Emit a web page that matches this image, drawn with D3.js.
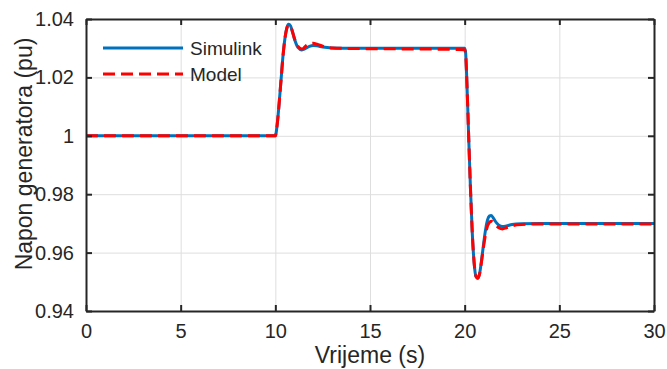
<!DOCTYPE html>
<html>
<head>
<meta charset="utf-8">
<script src="https://cdn.jsdelivr.net/npm/d3@7"></script>
<style>
    body { margin: 0; background: #fff; }
    svg { display: block; font-family: Arial, 'Liberation Sans', sans-serif; }
</style>
</head>
<body>
<svg id="chart"></svg>
<script>
// time samples (s)
const time = [0, 10, 10.1, 10.2, 10.3, 10.4, 10.5, 10.6, 10.7, 10.8, 10.9, 11, 11.2, 11.4, 11.6, 11.8, 12, 12.2, 12.5, 13, 14, 16, 18, 19.5,
    20, 20.05, 20.1, 20.2, 20.3, 20.4, 20.5, 20.6, 20.7, 20.8, 20.9, 21, 21.1, 21.2, 21.3, 21.4, 21.5, 21.6, 21.8, 22, 22.2, 22.5, 23, 24, 26, 28, 30];

const simulink = [1.0, 1.0, 1.004, 1.011, 1.019, 1.027, 1.033, 1.0368, 1.0382, 1.0377, 1.0358, 1.0334, 1.0302, 1.0294, 1.0299, 1.0306, 1.0309, 1.0308, 1.0304, 1.0301, 1.03, 1.03, 1.03, 1.03,
    1.03, 1.0285, 1.0215, 1.002, 0.983, 0.967, 0.9565, 0.9518, 0.9512, 0.9532, 0.9578, 0.963, 0.9677, 0.971, 0.9725, 0.9727, 0.972, 0.9709, 0.9694, 0.9689, 0.9691, 0.9696, 0.9699, 0.97, 0.97, 0.97, 0.97];

const model = [1.0, 1.0, 1.004, 1.011, 1.019, 1.027, 1.033, 1.0366, 1.0379, 1.0375, 1.0357, 1.0335, 1.0306, 1.0297, 1.0307, 1.0315, 1.0317, 1.0314, 1.0307, 1.0301, 1.0299, 1.0298, 1.0297, 1.0296,
    1.0295, 1.0281, 1.0212, 1.002, 0.983, 0.967, 0.9565, 0.9518, 0.9512, 0.953, 0.9574, 0.9622, 0.9662, 0.969, 0.9703, 0.9707, 0.9704, 0.9697, 0.9685, 0.9681, 0.9685, 0.9692, 0.9696, 0.9698, 0.9698, 0.9698, 0.9698];

const xTicks = [0, 5, 10, 15, 20, 25, 30];
const yTicks = [0.94, 0.96, 0.98, 1, 1.02, 1.04];
const yTickLabels = ['0.94', '0.96', '0.98', '1', '1.02', '1.04'];

const seriesNames = ['Simulink', 'Model'];

const W = 667, H = 369;
const margin = { top: 19, right: 13, bottom: 58, left: 86 };
const width = W - margin.left - margin.right;
const height = H - margin.top - margin.bottom;
const ink = '#262626';

const svg = d3.select('#chart')
        .attr('width', W)
        .attr('height', H);

const chart = svg.append('g')
    .attr('transform', `translate(${margin.left}, ${margin.top})`);

const x = d3.scaleLinear().domain([0, 30]).range([0, width]);
const y = d3.scaleLinear().domain([0.94, 1.04]).range([height, 0]);

// grid
chart.append('g')
    .attr('class', 'grid')
    .call(d3.axisBottom(x).tickValues(xTicks).tickSize(height).tickFormat(''))
    .call(g => g.select('.domain').remove());
chart.append('g')
    .attr('class', 'grid')
    .call(d3.axisLeft(y).tickValues(yTicks).tickSize(-width).tickFormat(''))
    .call(g => g.select('.domain').remove());
chart.selectAll('.grid line')
    .attr('stroke', '#dedede')
    .attr('stroke-width', 1);

// curves
const line = d3.line()
    .x(d => x(d[0]))
    .y(d => y(d[1]))
    .curve(d3.curveMonotoneX);

chart.append('path')
    .datum(time.map((t, i) => [t, simulink[i]]))
    .attr('fill', 'none')
    .attr('stroke', '#0072BD')
    .attr('stroke-width', 3)
    .attr('d', line);

chart.append('path')
    .datum(time.map((t, i) => [t, model[i]]))
    .attr('fill', 'none')
    .attr('stroke', '#FF0000')
    .attr('stroke-width', 3)
    .attr('stroke-dasharray', '12,6')
    .attr('d', line);

// axes with inward ticks on all four sides
const fmtY = d => yTickLabels[yTicks.indexOf(d)];

const xAxis = chart.append('g')
    .attr('transform', `translate(0, ${height})`)
    .call(d3.axisBottom(x).tickValues(xTicks).tickSizeInner(-6).tickSizeOuter(0).tickPadding(13));
const yAxis = chart.append('g')
    .call(d3.axisLeft(y).tickValues(yTicks).tickFormat(fmtY).tickSizeInner(-6).tickSizeOuter(0).tickPadding(12));
chart.append('g')
    .call(d3.axisTop(x).tickValues(xTicks).tickSizeInner(-6).tickSizeOuter(0).tickFormat(''));
chart.append('g')
    .attr('transform', `translate(${width}, 0)`)
    .call(d3.axisRight(y).tickValues(yTicks).tickSizeInner(-6).tickSizeOuter(0).tickFormat(''));

chart.selectAll('.domain')
    .attr('stroke', ink)
    .attr('stroke-width', 2);
chart.selectAll('.tick line:not(.grid line)')
    .attr('stroke', ink);
chart.selectAll('g:not(.grid) > .tick > line')
    .attr('stroke', ink)
    .attr('stroke-width', 2);
chart.selectAll('.tick text')
    .attr('fill', ink)
    .style('font-family', "Arial, 'Liberation Sans', sans-serif")
    .style('font-size', '20px');

// axis labels
svg.append('text')
    .attr('x', margin.left + width / 2)
    .attr('y', 363)
    .attr('text-anchor', 'middle')
    .attr('fill', ink)
    .style('font-size', '23px')
    .text('Vrijeme (s)');

svg.append('text')
    .attr('transform', 'translate(32, 154) rotate(-90)')
    .attr('text-anchor', 'middle')
    .attr('fill', ink)
    .style('font-size', '23px')
    .text('Napon generatora (pu)');

// legend (no box)
const legend = svg.append('g')
    .attr('transform', 'translate(103, 48)');

const legendItems = legend.selectAll('g')
    .data(seriesNames)
    .enter()
    .append('g')
        .attr('transform', (d, i) => `translate(0, ${i * 26})`);

legendItems.append('line')
    .attr('x1', 0)
    .attr('x2', 80)
    .attr('stroke', (d, i) => i === 0 ? '#0072BD' : '#FF0000')
    .attr('stroke-width', 3)
    .attr('stroke-dasharray', (d, i) => i === 0 ? null : '12,6');

legendItems.append('text')
    .attr('x', 87)
    .attr('dy', '0.35em')
    .attr('fill', ink)
    .style('font-size', '19px')
    .text(d => d);
</script>
</body>
</html>
